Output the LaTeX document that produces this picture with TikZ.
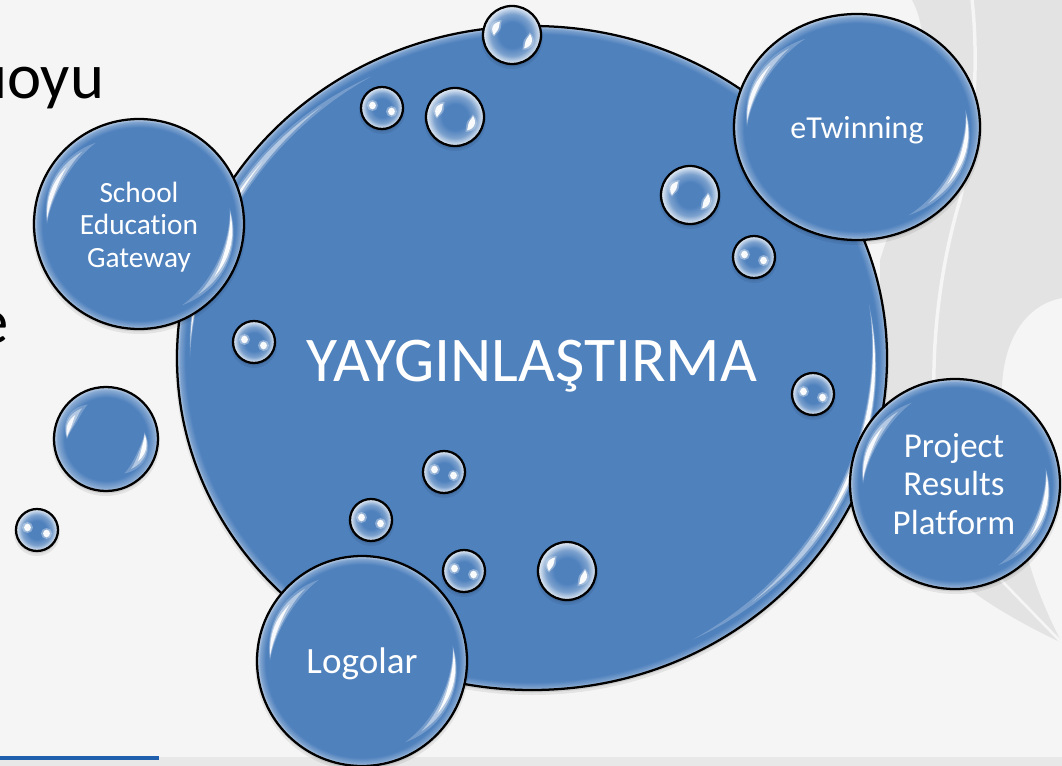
\documentclass[tikz,border=0pt]{standalone}
\usepackage{fontspec}
\usetikzlibrary{shapes.geometric}
\setmainfont[Ligatures=CommonOff]{Carlito}
\definecolor{bgc}{HTML}{F5F5F5}
\definecolor{grayc}{HTML}{E3E3E3}
\definecolor{ballc}{HTML}{4F81BD}
\definecolor{barc}{HTML}{1F5FAD}
\pgfdeclareradialshading{dropball}{\pgfpointorigin}{
 color(0bp)=(ballc); color(11bp)=(ballc); color(18bp)=(ballc!75!white); color(23bp)=(ballc!30!white); color(25bp)=(ballc!10!white)}
\pgfdeclareradialshading{midball}{\pgfpointorigin}{
 color(0bp)=(ballc); color(20bp)=(ballc); color(23.5bp)=(ballc!68!white); color(25bp)=(ballc!35!white)}
\pgfdeclareradialshading{bigball}{\pgfpointorigin}{
 color(0bp)=(ballc); color(23bp)=(ballc); color(24.3bp)=(ballc!72!white); color(25bp)=(ballc!35!white)}
\pgfdeclareradialshading{mainball}{\pgfpointorigin}{
 color(0bp)=(ballc); color(24.4bp)=(ballc); color(24.8bp)=(ballc!75!white); color(25bp)=(ballc!40!white)}
\tikzset{x=0.75pt,y=-0.75pt,
 ballline/.style={draw=black,line width=1.7pt},
 lbl/.style={text=white,align=center,font=\fontsize{22}{24.4}\selectfont},
 txt/.style={text=black,font=\fontsize{48.5}{58}\selectfont,anchor=base west,inner sep=0pt}}
% tapered highlight: rx ry from-angle to-angle width opacity
\newcommand{\glint}[6]{%
 \fill[white,opacity=#6] plot[domain=0:1,samples=25,variable=\t]
   ({(#1+0.5*#5*sin(180*\t))*cos(#3+(#4-#3)*\t)},{-(#2+0.5*#5*sin(180*\t))*sin(#3+(#4-#3)*\t)})
   -- plot[domain=1:0,samples=25,variable=\t]
   ({(#1-0.5*#5*sin(180*\t))*cos(#3+(#4-#3)*\t)},{-(#2-0.5*#5*sin(180*\t))*sin(#3+(#4-#3)*\t)})
   -- cycle;}
\newcommand{\shadowof}[4]{%
 \fill[black,opacity=.07] (#1,#2+3) ellipse[x radius=#3+2,y radius=#4+2];
 \fill[black,opacity=.10] (#1,#2+2) ellipse[x radius=#3+.5,y radius=#4+.5];}
% ball with rim highlights: name x y rx ry shading
\newcommand{\bigbubble}[6]{%
 \shadowof{#2}{#3}{#4}{#5}
 \node[ellipse,minimum width=#4*1.5pt,minimum height=#5*1.5pt,inner sep=0pt,shading=#6,ballline] (#1) at (#2,#3) {};
 \begin{scope}[shift={(#2,#3)}]
  \glint{#4-13}{#5-13}{118}{180}{10}{.22}
  \glint{#4-13}{#5-13}{128}{178}{7}{.45}
  \glint{#4-13}{#5-13}{142}{176}{4}{.9}
  \glint{#4-13}{#5-13}{-62}{10}{10}{.22}
  \glint{#4-13}{#5-13}{-50}{8}{7}{.45}
  \glint{#4-13}{#5-13}{-35}{6}{4.2}{.95}
 \end{scope}}
% glass drop, radius 29: crescents
\newcommand{\medbubble}[4]{%
 \shadowof{#2}{#3}{#4}{#4}
 \node[circle,minimum size=#4*1.5pt,inner sep=0pt,shading=dropball,ballline] (#1) at (#2,#3) {};
 \begin{scope}[shift={(#2,#3)}]
  \glint{#4*.62}{#4*.62}{125}{185}{10}{.3}
  \glint{#4*.62}{#4*.62}{132}{180}{6}{.95}
  \glint{#4*.62}{#4*.62}{-55}{8}{10}{.3}
  \glint{#4*.62}{#4*.62}{-48}{3}{6}{.95}
 \end{scope}}
% glass drop, radius 21: dots
\newcommand{\smallbubble}[4]{%
 \shadowof{#2}{#3}{#4}{#4}
 \node[circle,minimum size=#4*1.5pt,inner sep=0pt,shading=dropball,ballline] (#1) at (#2,#3) {};
 \fill[white,opacity=.35] (#2-9.5,#3-2.5) circle[radius=5.5];
 \fill[white,opacity=.95] (#2-9.5,#3-2.5) ellipse[x radius=3.4,y radius=3.8];
 \fill[white,opacity=.35] (#2+9.5,#3+3.5) circle[radius=5.5];
 \fill[white,opacity=.95] (#2+9.5,#3+3.5) ellipse[x radius=3.4,y radius=3.8];}
\begin{document}
\begin{tikzpicture}
\useasboundingbox (0,0) rectangle (1062,766);
\begin{scope}
\clip (0,0) rectangle (1062,766);
\fill[bgc] (0,0) rectangle (1062,766);
% gray backdrop
\fill[grayc] (912,0) .. controls (945,60) and (900,200) .. (880,260)
  -- (880,400) .. controls (880,520) and (930,580) .. (1062,643)
  .. controls (1045,610) and (1035,585) .. (1027,555)
  .. controls (1005,500) and (1000,440) .. (1002,386)
  .. controls (1004,340) and (1025,305) .. (1062,298) -- (1062,0) -- cycle;
\draw[bgc,line width=2.6pt] (972,0) .. controls (978,50) and (976,130) .. (960,200)
  .. controls (945,250) and (932,320) .. (934,400);
\draw[bgc,line width=2pt] (1000,579) -- (1062,643);
% bottom strip
\fill[grayc!70!bgc] (0,757) rectangle (1062,766);
\fill[barc] (0,755.5) rectangle (159,759.5);
% clipped body text
\node[txt] (t1) at (-27,99) {uoyu};
\node[txt] (t2) at (-24,343) {e};
\end{scope}
\begin{scope}
\clip (0,0) rectangle (1062,766);
\bigbubble{main}{532}{358}{355}{332}{mainball}
\node[text=white,font=\fontsize{47.8}{56}\selectfont] (mainl) at (532,366) {YAYGINLAŞTIRMA};
\bigbubble{seg}{139}{224}{105}{105}{bigball}
\node[lbl] (segl) at (139,227) {School\\Education\\Gateway};
\bigbubble{etw}{857}{127}{123}{113}{bigball}
\node[lbl,font=\fontsize{24}{29}\selectfont] (etwl) at (857,130) {eTwinning};
\bigbubble{prp}{955}{484}{105}{105}{bigball}
\node[lbl,font=\fontsize{26.2}{28.6}\selectfont] (prpl) at (954,484) {Project\\Results\\Platform};
\bigbubble{log}{362}{661}{105}{105}{bigball}
\node[lbl,font=\fontsize{27.8}{32}\selectfont] (logl) at (362,664) {Logolar};
\bigbubble{plain}{106}{439}{52}{52}{midball}
\medbubble{a1}{512}{35}{29}
\smallbubble{a2}{382}{108}{21}
\medbubble{a3}{455}{117}{29}
\medbubble{a4}{690}{195}{29}
\smallbubble{a5}{754}{257}{21}
\smallbubble{a6}{254}{342}{21}
\smallbubble{a7}{813}{394}{21}
\smallbubble{a8}{444}{472}{21}
\smallbubble{a9}{371}{520}{21}
\smallbubble{a10}{464}{571}{21}
\medbubble{a11}{567}{571}{29}
\smallbubble{a12}{37}{530}{21}
\end{scope}
\end{tikzpicture}
\end{document}
